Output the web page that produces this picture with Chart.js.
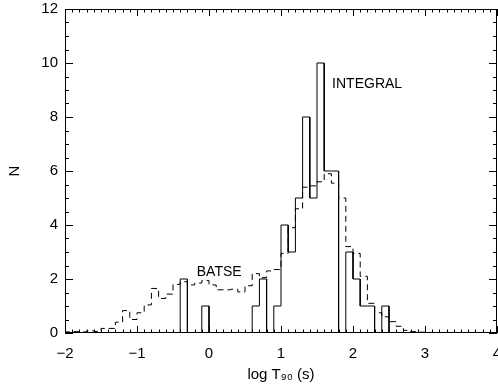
<!DOCTYPE html>
<html lang="en">
<head>
<meta charset="UTF-8">
<title>log T90 distribution</title>
<script src="https://cdn.jsdelivr.net/npm/chart.js@4.4.0/dist/chart.umd.min.js"></script>
<style>
  html, body { margin: 0; padding: 0; background: #fff; }
  #wrap { width: 498px; height: 385px; }
</style>
</head>
<body>
<div id="wrap"><canvas id="myChart" width="498" height="385"></canvas></div>
<script>
// bin width in log T90 (s)
const binWidth = 0.1;

// INTEGRAL: left edges of bins and counts
const integralEdges = [-0.4, -0.3, -0.2, -0.1, 0.0, 0.1, 0.2, 0.3, 0.4, 0.5,
                       0.6, 0.7, 0.8, 0.9, 1.0, 1.1, 1.2, 1.3, 1.4, 1.5,
                       1.6, 1.7, 1.8, 1.9, 2.0, 2.1, 2.2, 2.3, 2.4];
const integralCounts = [2, 0, 0, 1, 0, 0, 0, 0, 0, 0,
                        1, 2, 0, 1, 4, 3, 5, 8, 5, 10,
                        6, 6, 0, 3, 2, 1, 1, 0, 1];

// BATSE (scaled): left edges of bins and values
const batseEdges = [-2.0, -1.9, -1.8, -1.7, -1.6, -1.5, -1.4, -1.3, -1.2, -1.1,
                    -1.0, -0.9, -0.8, -0.7, -0.6, -0.5, -0.4, -0.3, -0.2, -0.1,
                    0.0, 0.1, 0.2, 0.3, 0.4, 0.5, 0.6, 0.7, 0.8, 0.9,
                    1.0, 1.1, 1.2, 1.3, 1.4, 1.5, 1.6, 1.7, 1.8, 1.9,
                    2.0, 2.1, 2.2, 2.3, 2.4, 2.5, 2.6, 2.7, 2.8, 2.9, 3.0];
const batseCounts = [0.04, 0.05, 0.04, 0.08, 0.06, 0.17, 0.17, 0.40, 0.83, 0.50,
                     0.75, 1.04, 1.65, 1.28, 1.44, 1.80, 1.90, 1.78, 1.85, 1.94,
                     1.78, 1.60, 1.60, 1.62, 1.52, 1.75, 2.20, 2.05, 2.30, 2.35,
                     2.95, 3.90, 4.60, 5.40, 5.45, 5.60, 5.90, 5.55, 5.00, 3.20,
                     2.95, 2.10, 1.10, 0.75, 0.60, 0.42, 0.25, 0.10, 0.05, 0.03, 0.02];

// turn bins into step outline points
function steps(edges, counts) {
    const pts = [{x: edges[0], y: 0}];
    for (let i = 0; i < edges.length; i++) {
        pts.push({x: edges[i], y: counts[i]});
        pts.push({x: edges[i] + binWidth, y: counts[i]});
    }
    pts.push({x: edges[edges.length - 1] + binWidth, y: 0});
    return pts;
}

const FONT = '"Liberation Sans", Arial, sans-serif';
Chart.defaults.color = '#000';
Chart.defaults.font.family = FONT;

// frame with inward ticks + text labels
const framePlugin = {
    id: 'framePlugin',
    afterDatasetsDraw(chart) {
        const {ctx, chartArea: a, scales: {x, y}} = chart;
        ctx.save();
        ctx.strokeStyle = '#000';
        ctx.lineWidth = 1;
        ctx.setLineDash([]);
        ctx.strokeRect(a.left + 0.5, a.top + 0.5, a.right - a.left - 1, a.bottom - a.top - 1);
        ctx.beginPath();
        for (let i = -20; i <= 40; i++) {
            const px = Math.round(x.getPixelForValue(i / 10)) + 0.5;
            const len = i % 10 === 0 ? 7 : 3.5;
            ctx.moveTo(px, a.bottom); ctx.lineTo(px, a.bottom - len);
            ctx.moveTo(px, a.top); ctx.lineTo(px, a.top + len);
        }
        for (let i = 0; i <= 24; i++) {
            const py = Math.round(y.getPixelForValue(i / 2)) + 0.5;
            const len = i % 4 === 0 ? 8 : 4;
            ctx.moveTo(a.left, py); ctx.lineTo(a.left + len, py);
            ctx.moveTo(a.right, py); ctx.lineTo(a.right - len, py);
        }
        ctx.stroke();

        ctx.fillStyle = '#000';
        ctx.font = '14px ' + FONT;
        ctx.textAlign = 'left';
        ctx.textBaseline = 'middle';
        ctx.fillText('INTEGRAL', x.getPixelForValue(1.71), y.getPixelForValue(9.2));
        ctx.fillText('BATSE', x.getPixelForValue(-0.17), y.getPixelForValue(2.27));
        ctx.restore();
    }
};

const ctx = document.getElementById('myChart').getContext('2d');
const myChart = new Chart(ctx, {
    type: 'scatter',
    data: {
        datasets: [{
            label: 'BATSE',
            data: steps(batseEdges, batseCounts),
            showLine: true,
            borderColor: '#000',
            borderWidth: 1,
            borderDash: [6, 4],
            pointRadius: 0,
            tension: 0
        }, {
            label: 'INTEGRAL',
            data: steps(integralEdges, integralCounts),
            showLine: true,
            borderColor: '#000',
            borderWidth: 1,
            pointRadius: 0,
            tension: 0
        }]
    },
    options: {
        responsive: false,
        animation: false,
        layout: { padding: { top: 9, right: 1, left: 0, bottom: 0 } },
        plugins: {
            legend: { display: false },
            tooltip: { enabled: false }
        },
        scales: {
            x: {
                type: 'linear',
                min: -2, max: 4,
                grid: { display: false, drawTicks: false },
                border: { display: false },
                ticks: {
                    stepSize: 1,
                    padding: 12,
                    font: { size: 15 },
                    callback: v => v < 0 ? '\u2212' + Math.abs(v) : String(v)
                },
                title: {
                    display: true,
                    text: 'log T\u2089\u2080 (s)',
                    font: { size: 15 },
                    padding: { top: 0, bottom: 1 }
                },
                afterFit(scale) {
                    scale.height = 52;
                    scale.paddingLeft = 0;
                    scale.paddingRight = 0;
                }
            },
            y: {
                min: 0, max: 12,
                grid: { display: false, drawTicks: false },
                border: { display: false },
                ticks: {
                    stepSize: 2,
                    padding: 7,
                    font: { size: 15 }
                },
                title: {
                    display: true,
                    text: 'N',
                    font: { size: 15 },
                    padding: { top: 6, bottom: 0 }
                },
                afterFit(scale) {
                    scale.width = 65;
                    scale.paddingTop = 0;
                    scale.paddingBottom = 0;
                }
            }
        }
    },
    plugins: [framePlugin]
});
</script>
</body>
</html>
